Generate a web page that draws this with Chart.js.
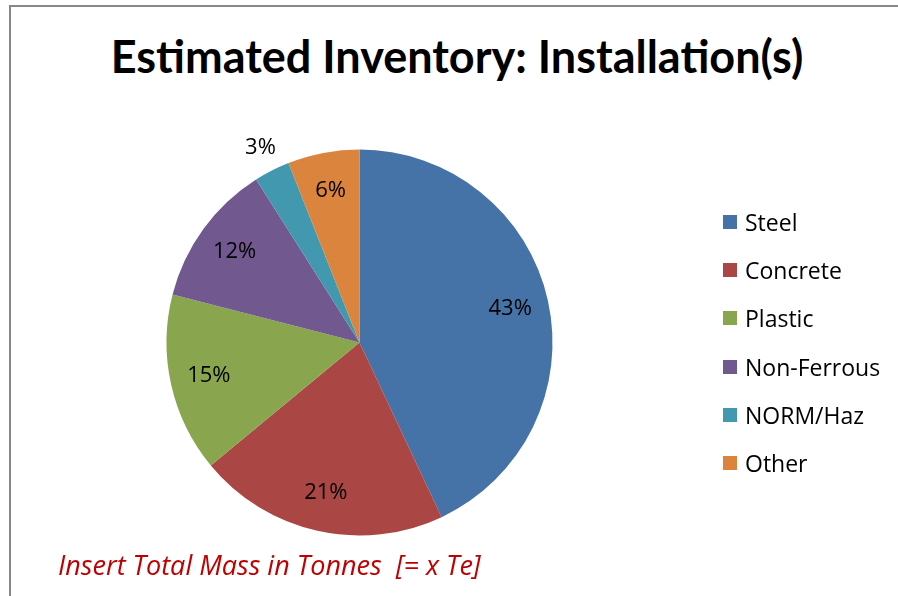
<!DOCTYPE html>
<html>
<head>
<meta charset="utf-8">
<script src="https://cdn.jsdelivr.net/npm/chart.js@4"></script>
<style>
  body { margin: 0; background: #fff; }
  #wrap { position: relative; width: 898px; height: 596px; overflow: hidden; font-family: "Open Sans", sans-serif; }
  #frame { position: absolute; left: 9px; top: 5px; width: 900px; height: 600px; border-top: 2px solid #888; border-left: 2px solid #888; }
  #title { position: absolute; left: 0; width: 914px; top: 29px; text-align: center; font-family: Lato, sans-serif; font-weight: bold; font-size: 45px; color: #000; }
  #pie { position: absolute; left: 0; top: 0; }
  #legend { position: absolute; left: 723px; top: 210px; font-size: 23px; line-height: 24px; color: #000; }
  .item { height: 48.2px; display: flex; align-items: flex-start; }
  .box { width: 14px; height: 14px; margin-top: 5px; margin-right: 8px; }
  #caption { position: absolute; left: 58px; top: 550px; font-size: 27px; line-height: 30px; font-style: italic; color: #C00000; white-space: pre; }
</style>
</head>
<body>
<div id="wrap">
  <div id="frame"></div>
  <div id="title">Estimated Inventory: Installation(s)</div>
  <canvas id="pie" width="898" height="596"></canvas>
  <div id="legend"></div>
  <div id="caption">Insert Total Mass in Tonnes  [= x Te]</div>
</div>
<script>
var labels = ['Steel', 'Concrete', 'Plastic', 'Non-Ferrous', 'NORM/Haz', 'Other']
var shares = [43, 21, 15, 12, 3, 6]
var colours = ['#4572A7', '#AA4643', '#89A54E', '#71588F', '#4198AF', '#DB843D']

// percentage labels, small slices go outside
const pctLabels = {
    id: 'pctLabels',
    afterDatasetsDraw(chart) {
        const ctx = chart.ctx
        const meta = chart.getDatasetMeta(0)
        ctx.save()
        ctx.font = '22px "Open Sans", sans-serif'
        ctx.fillStyle = '#000'
        ctx.textAlign = 'center'
        ctx.textBaseline = 'middle'
        meta.data.forEach(function (arc, i) {
            const p = arc.getProps(['x', 'y', 'startAngle', 'endAngle', 'outerRadius'], true)
            const mid = (p.startAngle + p.endAngle) / 2
            const f = shares[i] < 5 ? 1.13 : 0.8
            const x = p.x + Math.cos(mid) * p.outerRadius * f
            const y = p.y + Math.sin(mid) * p.outerRadius * f
            ctx.fillText(shares[i] + '%', x, y)
        })
        ctx.restore()
    }
}

const legendEl = document.getElementById('legend')
labels.forEach(function (name, i) {
    legendEl.innerHTML += '<div class="item"><div class="box" style="background:' + colours[i] + '"></div>' + name + '</div>'
})

const config = {
    type: 'pie',
    data: {
        labels: labels,
        datasets: [{
            data: shares,
            backgroundColor: colours,
            borderWidth: 0
        }]
    },
    options: {
        responsive: false,
        animation: false,
        layout: { padding: { left: 166.5, right: 345.5, top: 149.5, bottom: 60.5 } },
        plugins: {
            legend: { display: false },
            tooltip: { enabled: false }
        }
    },
    plugins: [pctLabels]
}

const myChart = new Chart(document.getElementById('pie'), config)
</script>
</body>
</html>
